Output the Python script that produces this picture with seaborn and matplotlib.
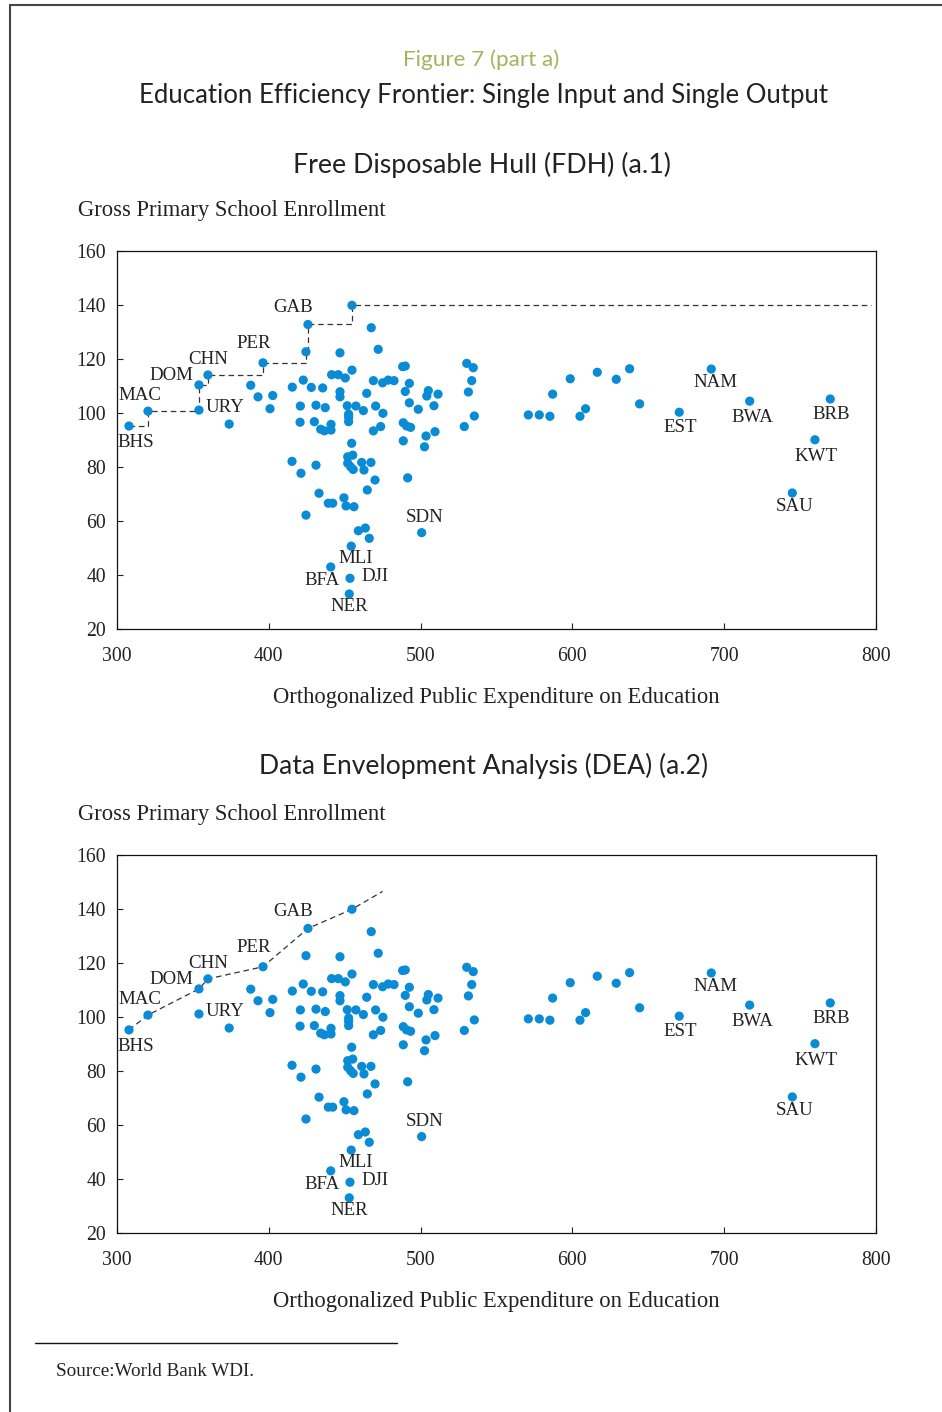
import pandas as pd
import seaborn as sns
import matplotlib.pyplot as plt
from matplotlib.lines import Line2D

# Labelled countries
codes = ["BHS", "MAC", "URY", "DOM", "CHN", "PER", "GAB", "MLI", "BFA", "DJI",
         "NER", "SDN", "EST", "NAM", "BWA", "BRB", "KWT", "SAU"]
code_spend = [307.9, 320.4, 354.0, 354.0, 359.9, 396.2, 425.8, 454.3, 440.8, 453.5,
              453.0, 500.7, 670.4, 691.5, 716.8, 769.9, 759.8, 744.9]
code_enrol = [95.2, 100.7, 101.1, 110.4, 114.1, 118.6, 132.8, 50.7, 43.0, 38.8,
              33.0, 55.7, 100.3, 116.3, 104.4, 105.2, 90.1, 70.4]

# Unlabelled countries
other_spend = [454.8, 424.5, 373.9, 388.1, 392.9, 402.6, 400.8, 467.5, 472.1, 446.9,
               415.5, 422.7, 428.0, 435.5, 441.4, 445.8, 450.4, 454.8, 446.9, 446.9,
               420.8, 431.1, 437.2, 420.6, 430.0, 434.2, 436.6, 441.0, 441.0, 451.7,
               457.4, 462.3, 452.6, 452.6, 452.6, 454.6, 468.9, 475.0, 478.7, 482.5,
               464.5, 470.4, 475.2, 468.9, 473.7, 488.2, 489.9, 492.6, 489.9, 492.6,
               498.5, 488.6, 490.8, 493.4, 488.6, 502.6, 503.6, 509.5, 505.1, 504.1,
               511.5, 508.8, 530.4, 534.7, 533.7, 531.5, 535.4, 528.8, 571.0, 578.2,
               585.2, 587.0, 598.6, 605.0, 608.7, 616.4, 628.9, 637.7, 644.3, 452.0,
               455.3, 452.0, 453.9, 455.6, 461.2, 467.3, 462.7, 470.0, 464.9, 415.3,
               421.2, 431.1, 491.5, 433.1, 439.2, 442.1, 449.5, 450.9, 456.1, 424.5,
               459.0, 463.6, 466.2]
other_enrol = [139.9, 122.7, 95.9, 110.3, 106.0, 106.5, 101.6, 131.6, 123.6, 122.3,
               109.6, 112.2, 109.5, 109.3, 114.2, 114.2, 113.0, 115.9, 107.9, 106.0,
               102.6, 102.9, 102.0, 96.6, 96.8, 94.0, 93.4, 95.8, 93.7, 102.7,
               102.6, 100.9, 99.6, 98.4, 96.8, 88.8, 112.0, 111.2, 112.2, 112.0,
               107.3, 102.6, 99.9, 93.4, 95.0, 117.2, 117.4, 111.0, 108.0, 103.8,
               101.4, 96.4, 95.2, 94.7, 89.7, 87.5, 91.5, 93.1, 108.3, 106.3,
               107.0, 102.7, 118.4, 116.8, 112.0, 107.8, 98.9, 95.0, 99.3, 99.3,
               98.8, 107.0, 112.7, 98.8, 101.6, 115.1, 112.5, 116.4, 103.4, 83.8,
               84.4, 81.4, 80.1, 79.1, 81.7, 81.7, 78.9, 75.2, 71.5, 82.1,
               77.7, 80.7, 76.0, 70.3, 66.6, 66.6, 68.6, 65.6, 65.3, 62.2,
               56.4, 57.4, 53.6]

# DEA frontier vertices (the last one is where the drawn line stops)
dea_spend = [307.9, 320.4, 354.0, 359.9, 396.2, 425.8, 454.8, 475.0]
dea_enrol = [95.2, 100.7, 110.4, 114.1, 118.6, 132.8, 139.9, 146.5]
fdh_end = 797.0

# label offsets in points (dx, dy)
offsets = {"BHS": (5, -12), "MAC": (-6, 11), "URY": (19, 2), "DOM": (-20, 7),
           "CHN": (0, 11), "PER": (-7, 14), "GAB": (-11, 12), "MLI": (3, -9),
           "BFA": (-6, -10), "DJI": (18, 1), "NER": (0, -9), "SDN": (2, 11),
           "EST": (1, -11), "NAM": (3, -10), "BWA": (2, -12), "BRB": (1, -11),
           "KWT": (1, -12), "SAU": (2, -10)}

df = pd.DataFrame({
    "code": codes + [""] * len(other_spend),
    "spend": code_spend + other_spend,
    "enrol": code_enrol + other_enrol,
})

# FDH frontier: running maximum of enrollment over sorted spending
s = df.sort_values(["spend", "enrol"]).reset_index(drop=True)
prev = s["enrol"].cummax().shift(fill_value=0)
fdh = s[s["enrol"] > prev][["spend", "enrol"]]
fdh = pd.concat([fdh, pd.DataFrame({"spend": [fdh_end], "enrol": [fdh["enrol"].iloc[-1]]})])

dea = pd.DataFrame({"spend": dea_spend, "enrol": dea_enrol})

sns.set_style("white")
serif = "Liberation Serif"
title_font = "Lato"
dot = "#0a8bd6"
ink = "#222222"

fig = plt.figure(figsize=(9.42, 14.12), dpi=100)
ax1 = fig.add_axes([0.1242, 0.5545, 0.8057, 0.2677])
ax2 = fig.add_axes([0.1242, 0.1268, 0.8057, 0.2677])

for ax, front, step in [(ax1, fdh, True), (ax2, dea, False)]:
    sns.lineplot(data=front, x="spend", y="enrol", ax=ax, sort=False, estimator=None,
                 color="#333333", lw=0.9, linestyle=(0, (4.5, 3)),
                 drawstyle="steps-post" if step else "default")
    sns.scatterplot(data=df, x="spend", y="enrol", ax=ax, color=dot, s=44,
                    edgecolor="none", zorder=3)
    for _, r in df[df["code"] != ""].iterrows():
        dx, dy = offsets[r["code"]]
        ax.annotate(r["code"], (r["spend"], r["enrol"]), xytext=(dx, dy),
                    textcoords="offset points", ha="center", va="center",
                    fontsize=13.6, family=serif, color=ink)
    ax.set_xlim(300, 800)
    ax.set_ylim(20, 160)
    ax.set_xticks(range(300, 801, 100))
    ax.set_yticks(range(20, 161, 20))
    ax.tick_params(direction="in", length=4.5, width=0.8, labelsize=14.2,
                   colors=ink, top=False, right=False, left=True, bottom=True)
    ax.tick_params(axis="x", pad=13)
    ax.tick_params(axis="y", pad=8)
    for lab in ax.get_xticklabels() + ax.get_yticklabels():
        lab.set_family(serif)
    for sp in ax.spines.values():
        sp.set_color("#111111")
        sp.set_linewidth(0.9)
    ax.set_xlabel("Orthogonalized Public Expenditure on Education", family=serif,
                  fontsize=16.3, color=ink, labelpad=15)
    ax.set_ylabel("")
    ax.text(-0.0514, 1.108, "Gross Primary School Enrollment", transform=ax.transAxes,
            ha="left", va="center", family=serif, fontsize=16.3, color=ink)

fig.text(0.511, 0.9575, "Figure 7 (part a)", ha="center", va="center",
         family=title_font, fontsize=16.2, color="#a3b45e")
fig.text(0.5138, 0.9327, "Education Efficiency Frontier: Single Input and Single Output",
         ha="center", va="center", family=title_font, fontsize=18.5, color=ink)
fig.text(0.5117, 0.8831, "Free Disposable Hull (FDH) (a.1)", ha="center", va="center",
         family=title_font, fontsize=19.3, color=ink)
fig.text(0.5133, 0.4575, "Data Envelopment Analysis (DEA) (a.2)", ha="center", va="center",
         family=title_font, fontsize=19.1, color=ink)

# source note
fig.add_artist(Line2D([0.0372, 0.4214], [0.0489, 0.0489], color="#111111", lw=1.0))
fig.text(0.0594, 0.029, "Source:World Bank WDI.", ha="left", va="center",
         family=serif, fontsize=13.8, color=ink)

# page frame
fig.add_artist(Line2D([0.0106, 0.0106], [0, 0.9968], color="#444444", lw=1.5))
fig.add_artist(Line2D([0.0106, 1.0], [0.9968, 0.9968], color="#444444", lw=1.5))

fig.savefig("out.png", dpi=100)
